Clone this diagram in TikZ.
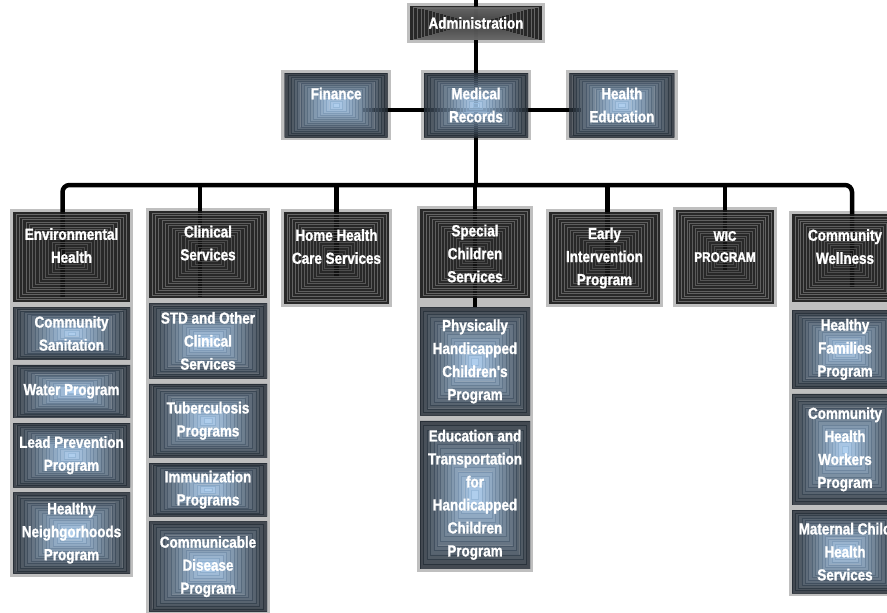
\documentclass[tikz,border=0pt]{standalone}
\usepackage{fontspec}
\newfontfamily\boxfont{Liberation Sans}[FakeStretch=0.84, FakeBold=1.3]
\usetikzlibrary{positioning, calc, fit}

\definecolor{slateedge}{HTML}{283039}
\definecolor{skycore}{HTML}{ACD2F8}
\definecolor{framegray}{HTML}{BFBFBF}

\pgfdeclarelayer{frames}
\pgfdeclarelayer{wires}
\pgfsetlayers{frames,wires,main}

\begin{document}
\begin{tikzpicture}[x=1pt, y=-1pt, % one unit = one pixel, y runs downwards
		node distance=5pt,
		boxtext/.style={text=white, font=\boxfont\bfseries\fontsize{16}{23}\selectfont, align=center, inner sep=0pt},
		darkbox/.style={rectangle, boxtext, path picture={
				\coordinate (pc) at (path picture bounding box.center);
				\coordinate (psw) at (path picture bounding box.south west);
				\coordinate (pne) at (path picture bounding box.north east);
				\fill[black!92, opacity=.88] (psw) rectangle (pne);
				\foreach \i in {1,...,17}{
					\pgfmathsetmacro\f{1-\i/18}
					\pgfmathtruncatemacro\g{46-\i}
					\draw[white!\g!black, line width=.7pt, opacity=.85] ($(pc)!\f!(psw)$) rectangle ($(pc)!\f!(pne)$);
				}}},
		bluebox/.style={rectangle, boxtext, path picture={
				\coordinate (pc) at (path picture bounding box.center);
				\coordinate (psw) at (path picture bounding box.south west);
				\coordinate (pne) at (path picture bounding box.north east);
				\foreach \i in {0,...,15}{
					\pgfmathsetmacro\fa{1-\i/16}
					\pgfmathsetmacro\fb{1-(\i+1)/16}
					\pgfmathtruncatemacro\p{100*\i/15}
					\colorlet{ringc}{skycore!\p!slateedge}
					\path[fill=ringc, draw=ringc!88!black, line width=.3pt, even odd rule, opacity=.82]
						($(pc)!\fa!(psw)$) rectangle ($(pc)!\fa!(pne)$)
						($(pc)!\fb!(psw)$) rectangle ($(pc)!\fb!(pne)$);
				}}},
		sub/.style={bluebox, minimum width=#1},
		grayframe/.style={rectangle, fill=framegray, inner sep=3pt},
		wire/.style={line width=4.5pt, black}
		]
		\useasboundingbox (0,0) rectangle (887,613);
		
		% Administration and the three offices below it
		\node[darkbox, minimum width=132pt, minimum height=34pt] (admin) at (476,23) {Administration};
		\node[bluebox, minimum width=104pt, minimum height=64pt] (med) at (476,105) {Medical\\Records};
		\node[bluebox, minimum width=103pt, minimum height=64pt, left=36pt of med] (fin) {Finance\\~};
		\node[bluebox, minimum width=105pt, minimum height=64pt, right=41pt of med] (hed) {Health\\Education};
		
		% Environmental Health
		\node[darkbox, minimum width=117pt, minimum height=90pt] (env) at (71.5,257) {Environmental\\Health\\~};
		\node[sub=117pt, minimum height=52pt, below=of env] (env1) {Community\\Sanitation};
		\node[sub=117pt, minimum height=53pt, below=of env1] (env2) {Water Program};
		\node[sub=117pt, minimum height=64pt, below=of env2] (env3) {Lead Prevention\\Program};
		\node[sub=117pt, minimum height=81pt, below=of env3] (env4) {Healthy\\Neighgorhoods\\Program};
		
		% Clinical Services
		\node[darkbox, minimum width=118pt, minimum height=87pt] (clin) at (208,254.5) {Clinical\\Services\\~};
		\node[sub=118pt, minimum height=75pt, below=of clin] (clin1) {STD and Other\\Clinical\\Services};
		\node[sub=118pt, minimum height=74pt, below=of clin1] (clin2) {Tuberculosis\\Programs};
		\node[sub=118pt, minimum height=53pt, below=of clin2] (clin3) {Immunization\\Programs};
		\node[sub=118pt, minimum height=90pt, below=of clin3] (clin4) {Communicable\\Disease\\Program};
		
		% Home Health
		\node[darkbox, minimum width=105pt, minimum height=92pt] (home) at (336.5,258) {Home Health\\Care Services\\~};
		
		% Special Children Services
		\node[darkbox, minimum width=110pt, minimum height=89pt] (spec) at (475,253.5) {Special\\Children\\Services};
		\node[sub=110pt, minimum height=108pt, below=9pt of spec] (spec1) {Physically\\Handicapped\\Children's\\Program};
		\node[sub=110pt, minimum height=148pt, below=of spec1] (spec2) {Education and\\Transportation\\for\\Handicapped\\Children\\Program};
		
		% Early Intervention and WIC
		\node[darkbox, minimum width=111pt, minimum height=92pt] (early) at (604.5,258) {Early\\Intervention\\Program};
		\node[darkbox, minimum width=98pt, minimum height=94pt, font=\boxfont\bfseries\fontsize{14}{21}\selectfont] (wic) at (725,257) {WIC\\PROGRAM\\~};
		
		% Community Wellness
		\node[darkbox, minimum width=106pt, minimum height=88pt] (cw) at (845,258) {Community\\Wellness\\~};
		\node[sub=106pt, minimum height=78pt, below=8pt of cw] (cw1) {Healthy\\Families\\Program};
		\node[sub=106pt, minimum height=111pt, below=of cw1] (cw2) {Community\\Health\\Workers\\Program};
		\node[sub=106pt, minimum height=83pt, below=of cw2] (cw3) {Maternal Child\\Health\\Services};
		
		% light gray frames behind each unit
		\begin{pgfonlayer}{frames}
			\foreach \a/\b in {admin/admin, fin/fin, med/med, hed/hed, env/env4, clin/clin4, home/home, spec/spec2, early/early, wic/wic, cw/cw3}
				\node[grayframe, fit=(\a)(\b)] (\a-frame) {};
		\end{pgfonlayer}
		
		% connecting lines
		\begin{pgfonlayer}{wires}
			\coordinate (topedge) at (476,-5);
			\coordinate (bus) at (476,185);
			\draw[wire] (topedge) -- (admin.center) -- (med.center) -- (bus);
			\draw[wire] ($(fin.center)+(27,5)$) -- ($(hed.center)+(-41,5)$);
			\draw[wire, rounded corners=7pt] ($(env.south)+(-9,-5)$) |- (bus) -| ($(cw.south)+(7,-15)$);
			\foreach \n/\dx/\dy in {clin/-8/-1, home/0/-27, spec/0/9, early/3/-17, wic/0/-34}
				\draw[wire] ($(\n.south |- bus)+(\dx,0)$) -- ($(\n.south)+(\dx,\dy)$);
		\end{pgfonlayer}
		
	\end{tikzpicture}
\end{document}
